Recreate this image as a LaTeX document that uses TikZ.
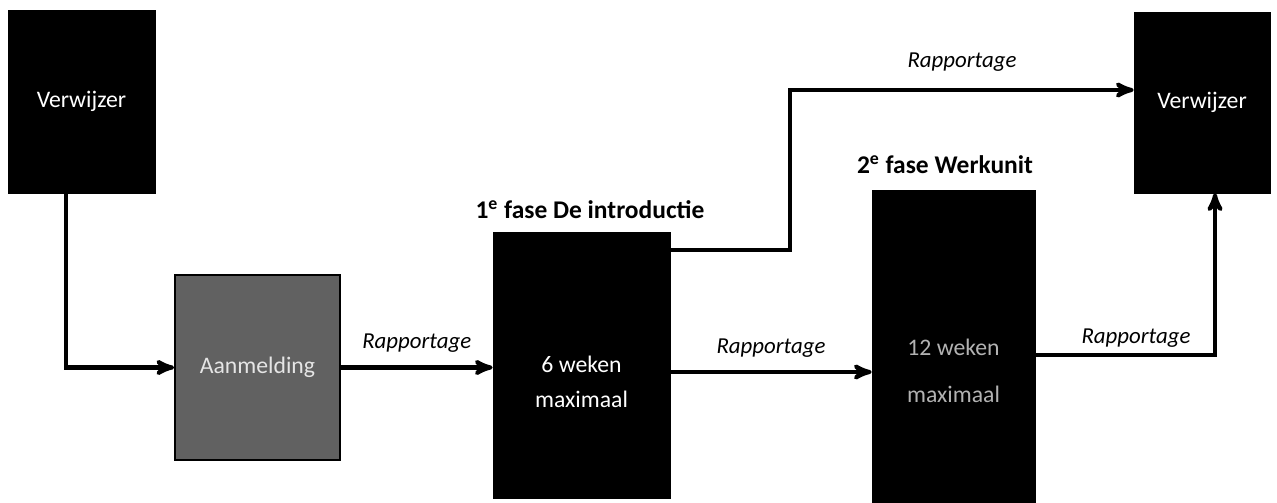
\documentclass[tikz,border=0pt]{standalone}
\usepackage{fontspec}
\setmainfont{Carlito}
\usepackage{xcolor}
\usepackage{tikz}
\usetikzlibrary{arrows}
\usetikzlibrary{shapes}

\tikzset{
    blok/.style = {draw = black, fill = black, text = white, align = center,
        inner sep = 0pt, font = \fontsize{13.5}{20}\selectfont},
    pijl/.style = {->, >=stealth', line width = 2.3pt},
    rapport/.style = {font = \fontsize{13}{15}\selectfont\itshape},
    fase/.style = {font = \fontsize{14.5}{16}\selectfont\bfseries}
}

\begin{document}
\begin{tikzpicture}[x = 0.02cm, y = -0.02cm]
        \useasboundingbox (0, 0) rectangle (1277, 503);

        \node[blok, minimum width = 2.94cm, minimum height = 3.66cm]
            (verwL) at (81.5, 101.5) {Verwijzer};
        \node[blok, fill = black!62, text = white!80!gray, line width = 1pt,
            minimum width = 3.3cm, minimum height = 3.7cm]
            (aanm) at (257.5, 367.5) {Aanmelding};
        \node[blok, minimum width = 3.54cm, minimum height = 5.32cm]
            (fase1) at (581.5, 365) {{}\\[9pt]6 weken\\maximaal};
        \node[blok, text = gray!60, minimum width = 3.26cm, minimum height = 6.26cm]
            (fase2) at (953.5, 346.5) {{}\\[17pt]12 weken\\[6.6pt]maximaal};
        \node[blok, minimum width = 2.72cm, minimum height = 3.62cm]
            (verwR) at (1202, 102.5) {Verwijzer};

        \node[fase] (titel1) at (590, 210) {1\textsuperscript{e} fase De introductie};
        \node[fase] (titel2) at (945, 165) {2\textsuperscript{e} fase Werkunit};

        % pijlen
        \draw[pijl] ([xshift = -0.31cm]verwL.south) |- (aanm.west);
        \draw[pijl] (aanm.east) -- (aanm.east -| fase1.west)
            node[rapport, midway, above = 4pt] (r1) {Rapportage};
        \draw[pijl] ([yshift = -0.36cm]fase1.north east) -- ++(2.4cm, 0)
            |- ([yshift = 0.25cm]verwR.west)
            node[rapport, pos = 0.75, above = 6pt] (r2) {Rapportage};
        \draw[pijl] ([yshift = -0.14cm]fase1.east) -- ([yshift = -0.14cm]fase1.east -| fase2.west)
            node[rapport, midway, above = 4pt] (r3) {Rapportage};
        \draw[pijl] ([yshift = -0.17cm]fase2.east) -| ([xshift = 0.26cm]verwR.south)
            node[rapport, pos = 0.28, above = 0pt] (r4) {Rapportage};
    \end{tikzpicture}
\end{document}
